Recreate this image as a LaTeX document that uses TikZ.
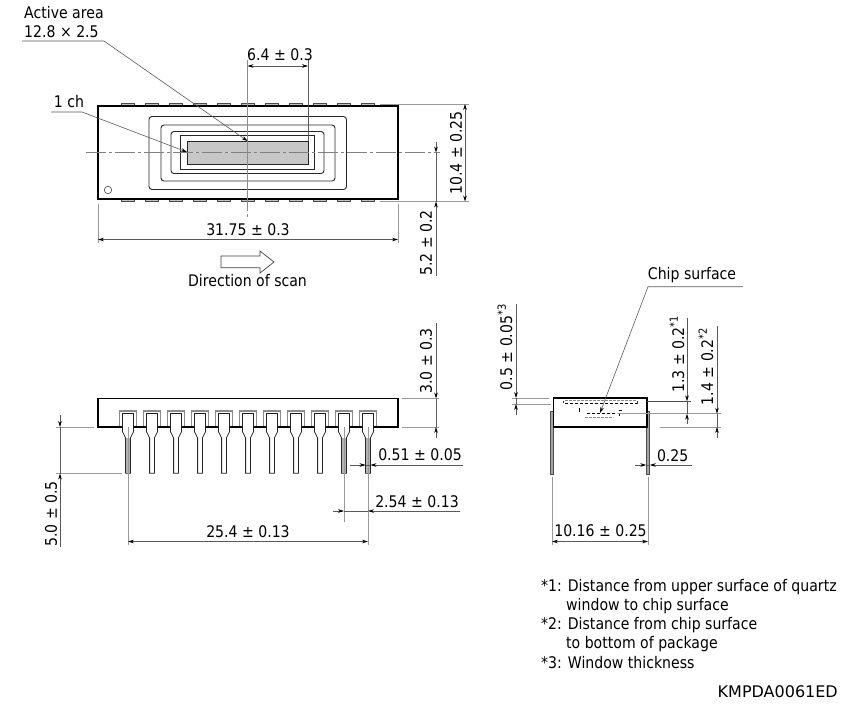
\documentclass[tikz,border=0pt]{standalone}
\usepackage{fontspec}
\setmainfont{DejaVu Sans}[FakeStretch=0.88]
\newfontfamily\codefont{DejaVu Sans}
\usetikzlibrary{arrows.meta}
\tikzset{
  dimline/.style={draw=black!65,line width=0.6pt},
  extline/.style={draw=black!40,line width=1pt},
  leader/.style={draw=black!65,line width=0.6pt},
  both/.style={{Stealth[length=6pt,width=3.6pt,black]}-{Stealth[length=6pt,width=3.6pt,black]}},
  endtip/.style={-{Stealth[length=6pt,width=3.6pt,black]}},
  body/.style={draw=black,line width=1.7pt},
  thinbox/.style={draw=black!85,line width=0.9pt,rounded corners=#1},
  thinbox/.default=2pt,
  label/.style={inner sep=0pt,font=\fontsize{16}{18}\selectfont,text=black},
  vlabel/.style={label,rotate=90},
  note/.style={label,anchor=west},
  tab/.style={draw=black!70,fill=black!25,line width=0.5pt},
  centre/.style={draw=black!50,line width=0.7pt,dash pattern=on 20pt off 3pt on 3pt off 3pt},
  hidden/.style={draw=black,line width=0.6pt,dash pattern=on 3pt off 2pt},
  hiddengray/.style={draw=black!45,line width=1pt,dash pattern=on 3pt off 1pt},
}
\begin{document}
\begin{tikzpicture}[x=1pt,y=-1pt]
\useasboundingbox (0,0) rectangle (856,715);
% ---------- top view
\foreach \p in {128,152,176,200,224,248,272,296,320,344,368}{
  \draw[tab] (\p-6.5,103.5) rectangle (\p+6.5,106);
  \draw[tab] (\p-6.5,199) rectangle (\p+6.5,201.5);
}
\node[body,minimum width=300pt,minimum height=93pt,inner sep=0pt] (pkg) at (248,152.5) {};
\draw[thinbox=3pt] (149,116.5) rectangle (346.5,189.5);
\draw[thinbox=3pt] (161,125) rectangle (335,181);
\draw[thinbox=3pt] (171,131.5) rectangle (324,173.5);
\draw[thinbox=0pt] (180.5,135.5) rectangle (314.5,169.5);
\node[draw=black!85,fill=black!22,line width=1pt,inner sep=0pt,minimum width=120.5pt,minimum height=23.5pt] (active) at (247.75,152.75) {};
\node[draw=black!70,circle,line width=0.6pt,minimum size=7.5pt,inner sep=0pt] (mark) at (108,190) {};
% centre lines
\coordinate (cl) at (86,152.5); \coordinate (cr) at (440,152.5);
\draw[centre] (cl) -- (cr);
\coordinate (vt) at (247.5,60); \coordinate (vb) at (247.5,217);
\draw[draw=black!45,line width=0.8pt] (vt) -- (247.5,203);
\draw[draw=black!45,line width=0.8pt,dash pattern=on 8pt off 3pt] (247.5,203) -- (vb);
% 6.4
\coordinate (a1) at (308,60); \coordinate (a2) at (308,141);
\draw[dimline] (a1) -- (a2);
\coordinate (d1) at (247.5,66); \coordinate (d2) at (308,66);
\draw[dimline,both] (d1) -- (d2);
\node[label] (t64) at (280,55) {6.4 ± 0.3};
% leaders
\node[label,anchor=west] (tAA) at (24,13) {Active area};
\node[label,anchor=west] (tAB) at (24,32) {12.8 × 2.5};
\coordinate (l1) at (22,41); \coordinate (l2) at (104,41); \coordinate (l3) at (247.5,141);
\draw[leader,endtip] (l1) -- (l2) -- (l3);
\node[label] (tCh) at (69,102) {1 ch};
\coordinate (m1) at (51,112); \coordinate (m2) at (82,112); \coordinate (m3) at (187,152);
\draw[leader,endtip] (m1) -- (m2) -- (m3);
% 10.4 and 5.2
\coordinate (e1) at (380,104); \coordinate (e2) at (469,104);
\coordinate (e3) at (380,201.5); \coordinate (e4) at (469,201.5);
\draw[extline] (e1) -- (e2); \draw[extline] (e3) -- (e4);
\draw[dimline,both] (465,104) -- (465,201.5);
\node[vlabel] (t104) at (456,153) {10.4 ± 0.25};
\coordinate (f1) at (436,142); \coordinate (f2) at (436,152.5);
\coordinate (f3) at (436,276); \coordinate (f4) at (436,201.5);
\draw[dimline,endtip] (f1) -- (f2);
\draw[dimline,endtip] (f3) -- (f4);
\draw[dimline] (f2) -- (f4);
\node[vlabel] (t52) at (426,243) {5.2 ± 0.2};
% 31.75
\draw[extline] (98,204) -- (98,243);
\draw[extline] (398,204) -- (398,243);
\draw[dimline,both] (98,239.5) -- (398,239.5);
\node[label] (t3175) at (248,230) {31.75 ± 0.3};
% scan arrow
\draw[draw=black!75,fill=white,line width=0.7pt]
  (221,256) -- (260,256) -- (260,251) -- (274,262) -- (260,273) -- (260,267.7) -- (221,267.7) -- cycle;
\node[label] (tDir) at (247.5,281) {Direction of scan};
% ---------- side view
\node[body,minimum width=300pt,minimum height=28.5pt,inner sep=0pt] (side) at (248,412.75) {};
\foreach \p in {128,152,176,200,224,248,272,296,320,344,368}{
  \draw[draw=black!45,line width=1.2pt] (\p-8.5,426) -- (\p-8.5,411) -- (\p+8.5,411) -- (\p+8.5,426);
  \draw[draw=black!85,fill=white,line width=0.8pt]
    (\p-5.5,431.7) -- (\p-5.5,413.5) -- (\p+5.5,413.5) -- (\p+5.5,431.7)
    -- (\p+2.4,438) -- (\p+2.4,473.3) -- (\p-2.4,473.3) -- (\p-2.4,438) -- cycle;
}
\foreach \p in {128,344,368}{
  \fill[black!30] (\p-2,438) rectangle (\p+2,473);
}
\draw[extline] (128,427) -- (128,545);
\draw[extline] (344,427) -- (344,522);
\draw[extline] (368,427) -- (368,545);
% 3.0
\draw[extline] (402,398.5) -- (439,398.5);
\draw[extline] (402,427) -- (439,427);
\draw[dimline,endtip] (436,323) -- (436,398.5);
\draw[dimline,endtip] (436,438) -- (436,427);
\draw[dimline] (436,398.5) -- (436,427);
\node[vlabel] (t30) at (426,361) {3.0 ± 0.3};
% 5.0
\draw[extline] (56,427) -- (94,427);
\draw[extline] (56,473.5) -- (122,473.5);
\draw[dimline,endtip] (60,415) -- (60,427);
\draw[dimline,endtip] (60,547) -- (60,473.5);
\draw[dimline] (60,427) -- (60,473.5);
\node[vlabel] (t50) at (51,514) {5.0 ± 0.5};
% 0.51
\draw[dimline,endtip] (350,465) -- (365.6,465);
\draw[dimline,endtip] (463,465) -- (370.4,465);
\draw[dimline] (365.6,465) -- (370.4,465);
\node[label] (t051) at (420,455) {0.51 ± 0.05};
% 2.54
\draw[dimline,endtip] (333,511) -- (344,511);
\draw[dimline,endtip] (460,511) -- (368,511);
\draw[dimline] (344,511) -- (368,511);
\node[label] (t254) at (417,502) {2.54 ± 0.13};
% 25.4
\draw[dimline,both] (128,541.5) -- (368,541.5);
\node[label] (t254b) at (248,532) {25.4 ± 0.13};
% ---------- end view
\foreach \p in {552,648}{
  \draw[draw=black!70,fill=black!35,line width=0.5pt] (\p-1.7,411) rectangle (\p+1.7,474);
}
\node[body,minimum width=93.5pt,minimum height=29pt,inner sep=0pt,fill=white] (end) at (600.25,412.5) {};
\draw[hiddengray] (565,400.7) -- (637,400.7);
\draw[hidden] (565,403.3) -- (637,403.3);
\draw[hidden] (587,413.5) -- (617,413.5);
\draw[hiddengray] (585,417) -- (613,417);
\draw[draw=black,line width=0.6pt] (579,408) -- (579,412) (619,413) -- (619,416) (619,410.5) -- (622,410.5);
\draw[draw=black!80,line width=0.6pt] (563,400.5) -- (563,403) (637,401) -- (637,404);
% chip surface
\node[label] (tChip) at (692,275) {Chip surface};
\coordinate (c1) at (743,286.7); \coordinate (c2) at (648,286.7); \coordinate (c3) at (600,413);
\draw[leader,endtip] (c1) -- (c2) -- (c3);
% 0.5
\draw[extline] (512,398) -- (549,398);
\draw[extline] (512,404) -- (551,404);
\draw[dimline,endtip] (516,304) -- (516,398);
\draw[dimline,endtip] (516,415) -- (516,404);
\draw[dimline] (516,398) -- (516,404);
\node[vlabel] (t05) at (505,347) {0.5 ± 0.05\textsuperscript{*3}};
% 1.3
\draw[draw=black!70,line width=0.7pt] (647,401.3) -- (691,401.3);
\draw[extline] (618,413.7) -- (721,413.7);
\draw[extline] (660,427) -- (721,427);
\draw[dimline,endtip] (687,318) -- (687,401.3);
\draw[dimline,endtip] (687,424) -- (687,413.7);
\draw[dimline] (687,401.3) -- (687,413.7);
\node[vlabel] (t13) at (677,354) {1.3 ± 0.2\textsuperscript{*1}};
% 1.4
\draw[dimline,endtip] (717,326) -- (717,413.7);
\draw[dimline,endtip] (717,438) -- (717,427);
\draw[dimline] (717,413.7) -- (717,427);
\node[vlabel] (t14) at (706,366.5) {1.4 ± 0.2\textsuperscript{*2}};
% 0.25
\draw[dimline,endtip] (635,465) -- (646.2,465);
\draw[dimline,endtip] (692,465) -- (649.8,465);
\draw[dimline] (646.2,465) -- (649.8,465);
\node[label] (t025) at (672.7,456) {0.25};
% 10.16
\draw[extline] (552,477) -- (552,545);
\draw[extline] (648,477) -- (648,545);
\draw[dimline,both] (552,541.5) -- (648,541.5);
\node[label] (t1016) at (600.5,531) {10.16 ± 0.25};
% ---------- notes
\node[note] (n1) at (541,587) {*1: Distance from upper surface of quartz};
\node[note] (n2) at (566,606) {window to chip surface};
\node[note] (n3) at (541,625) {*2: Distance from chip surface};
\node[note] (n4) at (566,644) {to bottom of package};
\node[note] (n5) at (541,663) {*3: Window thickness};
\node[label,anchor=east] (code) at (838,692) {\codefont KMPDA0061ED};
\end{tikzpicture}
\end{document}
